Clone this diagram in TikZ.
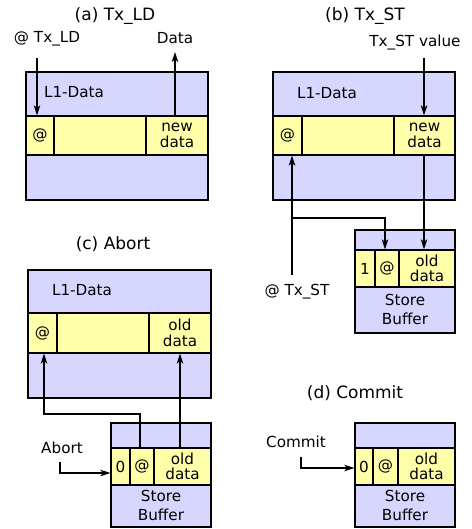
\documentclass[tikz,border=0pt]{standalone}
\usepackage{fontspec}
\setmainfont{DejaVu Sans}
\usetikzlibrary{arrows.meta}
\definecolor{cachebg}{RGB}{214,214,255}
\definecolor{linebg}{RGB}{255,255,170}
\begin{document}
\begin{tikzpicture}[x=1pt,y=-1pt,
    cache/.style={draw,fill=cachebg,line width=1.3pt,inner sep=0pt},
    field/.style={draw,fill=linebg,line width=1.3pt,inner sep=0pt,align=center,font=\fontsize{15.2}{15.5}\selectfont},
    lbl/.style={inner sep=0pt,font=\fontsize{15.2}{17}\selectfont},
    ttl/.style={inner sep=0pt,font=\fontsize{17}{20}\selectfont},
    arr/.style={line width=1.3pt,-{Stealth[length=10pt,width=6.5pt,inset=2.5pt]}}]
    \useasboundingbox (0,0) rectangle (471,529);
    % (a) Tx_LD
    \node[ttl] (ta) at (115,16) {(a) Tx\_LD};
    \node[cache,minimum width=182pt,minimum height=128pt] (la) at (117,136) {};
    \node[lbl] (la-name) at (74,92) {L1-Data};
    \node[field,minimum width=28pt,minimum height=39pt] (a1) at (40,135.5) {@};
    \node[field,minimum width=92pt,minimum height=39pt] (a2) at (100,135.5) {};
    \node[field,minimum width=62pt,minimum height=39pt] (a3) at (177,135.5) {new\\data};
    \node[lbl] (aaddr) at (47,39) {@ Tx\_LD};
    \node[lbl] (adata) at (175,38) {Data};
    \coordinate (aaddr-s) at (37,58);
    \coordinate (adata-e) at (175,52);
    \draw[arr] (aaddr-s) -- (aaddr-s |- a1.north);
    \draw[arr] (a3.north -| adata-e) -- (adata-e);
    % (b) Tx_ST
    \node[ttl] (tb) at (365,16) {(b) Tx\_ST};
    \node[cache,minimum width=182pt,minimum height=128pt] (lb) at (364,136) {};
    \node[lbl] (lb-name) at (327,93) {L1-Data};
    \node[field,minimum width=29pt,minimum height=39pt] (b1) at (287.5,135.5) {@};
    \node[field,minimum width=92pt,minimum height=39pt] (b2) at (348,135.5) {};
    \node[field,minimum width=61pt,minimum height=39pt] (b3) at (424.5,135.5) {new\\data};
    \node[cache,minimum width=100pt,minimum height=103pt] (sbb) at (405,281.5) {};
    \node[field,minimum width=20pt,minimum height=37pt] (sb1) at (365,268.5) {1};
    \node[field,minimum width=24pt,minimum height=37pt] (sb2) at (387,268.5) {@};
    \node[field,minimum width=56pt,minimum height=37pt] (sb3) at (427,268.5) {old\\data};
    \node[lbl,align=center,font=\fontsize{15.2}{19}\selectfont] (sbb-name) at (405,309) {Store\\Buffer};
    \node[lbl] (bval) at (415,43) {Tx\_ST value};
    \node[lbl] (baddr) at (297,292) {@ Tx\_ST};
    \coordinate (bval-s) at (424,58);
    \coordinate (baddr-s) at (292,275);
    \coordinate (bj) at (292,218);
    \draw[arr] (bval-s) -- (bval-s |- b3.north);
    \draw[arr] (baddr-s) -- (baddr-s |- b1.south);
    \draw[arr] (bj) -| ([xshift=-2pt]sb2.north);
    \draw[arr] (b3.south -| bval-s) -- (bval-s |- sb3.north);
    % (c) Abort
    \node[ttl] (tc) at (113,244) {(c) Abort};
    \node[cache,minimum width=183pt,minimum height=128pt] (lc) at (119.5,334) {};
    \node[lbl] (lc-name) at (82,290) {L1-Data};
    \node[field,minimum width=29pt,minimum height=40pt] (c1) at (42.5,333) {@};
    \node[field,minimum width=92pt,minimum height=40pt] (c2) at (103,333) {};
    \node[field,minimum width=62pt,minimum height=40pt] (c3) at (180,333) {old\\data};
    \node[cache,minimum width=100pt,minimum height=104pt] (sbc) at (161,475) {};
    \node[field,minimum width=19pt,minimum height=37pt] (sc1) at (120.5,466.5) {0};
    \node[field,minimum width=24pt,minimum height=37pt] (sc2) at (142,466.5) {@};
    \node[field,minimum width=57pt,minimum height=37pt] (sc3) at (182.5,466.5) {old\\data};
    \node[lbl,align=center,font=\fontsize{15.2}{19}\selectfont] (sbc-name) at (161,505.5) {Store\\Buffer};
    \node[lbl] (cab) at (62,448) {Abort};
    \coordinate (cab-s) at (60,462);
    \coordinate (cj) at (44,414);
    \draw[arr] ([xshift=-2pt]sc2.north) |- (cj) -- (cj |- c1.south);
    \draw[arr] (sc3.north -| c3) -- (c3.south);
    \draw[arr] (cab-s) |- ([yshift=-6.5pt]sc1.west);
    % (d) Commit
    \node[ttl] (td) at (355,393) {(d) Commit};
    \node[cache,minimum width=100pt,minimum height=104pt] (sbd) at (405,475) {};
    \node[field,minimum width=18pt,minimum height=37pt] (sd1) at (364,466.5) {0};
    \node[field,minimum width=25pt,minimum height=37pt] (sd2) at (385.5,466.5) {@};
    \node[field,minimum width=57pt,minimum height=37pt] (sd3) at (426.5,466.5) {old\\data};
    \node[lbl,align=center,font=\fontsize{15.2}{19}\selectfont] (sbd-name) at (405,505.5) {Store\\Buffer};
    \node[lbl] (dcm) at (296,442) {Commit};
    \coordinate (dcm-s) at (301,457);
    \draw[arr] (dcm-s) |- ([yshift=-1.5pt]sd1.west);
\end{tikzpicture}
\end{document}
